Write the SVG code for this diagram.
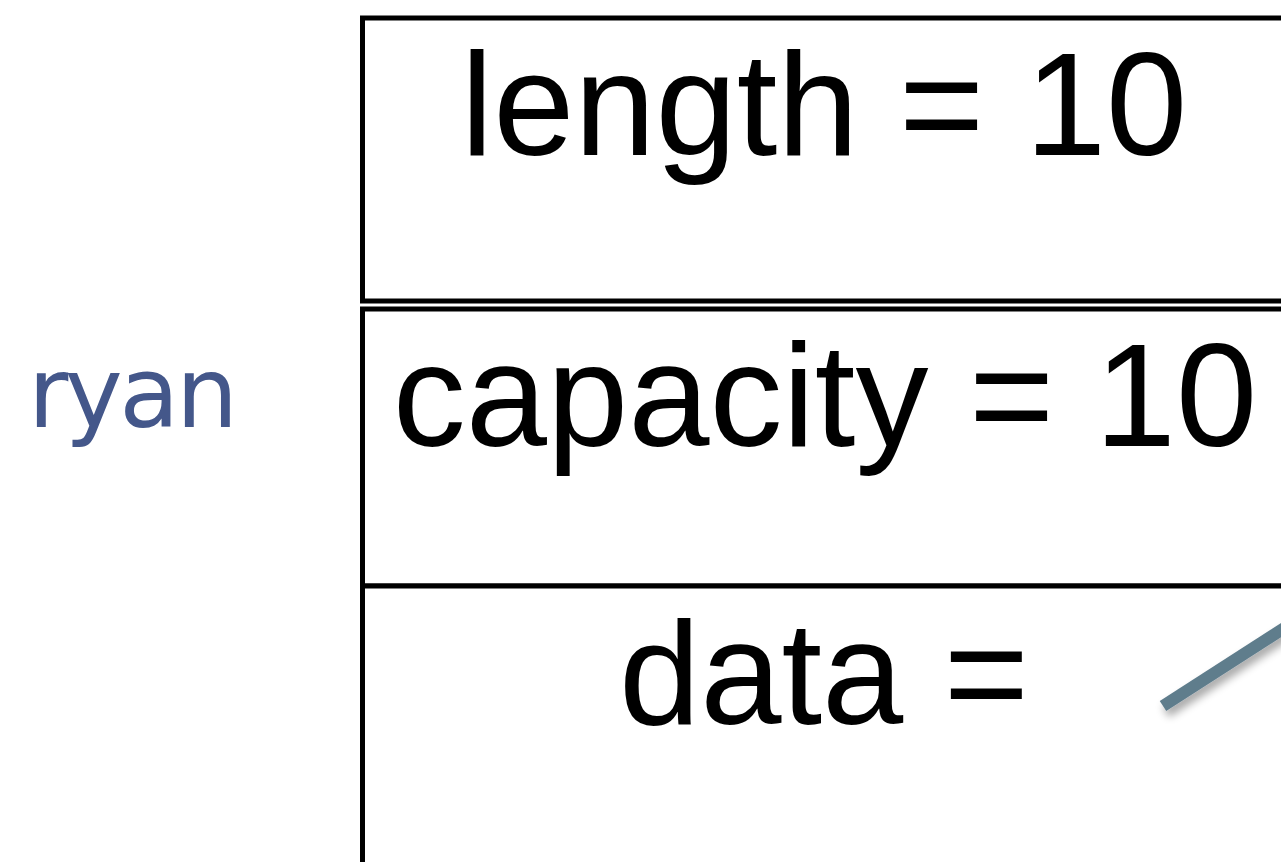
<svg xmlns="http://www.w3.org/2000/svg" width="1281" height="862" viewBox="0 0 1281 862">
<style>
.box{fill:#fff;stroke:#000;stroke-width:5}
.lbl{font-family:"Liberation Sans",Arial,sans-serif;font-size:146px;fill:#000;text-anchor:middle}
.name{font-family:"DejaVu Sans","Noto Sans",sans-serif;font-size:98px;fill:#44578a}
</style>
<defs>
<filter id="sh" x="-20%" y="-50%" width="140%" height="200%">
<feGaussianBlur in="SourceAlpha" stdDeviation="4"/>
<feOffset dx="3" dy="6" result="b"/>
<feComponentTransfer><feFuncA type="linear" slope="0.35"/></feComponentTransfer>
<feMerge><feMergeNode/><feMergeNode in="SourceGraphic"/></feMerge>
</filter>
</defs>
<rect width="1281" height="862" fill="#fff"/>
<g id="ryan"><text class="name" x="28" y="427" textLength="210" lengthAdjust="spacing">ryan</text></g>
<g id="length"><rect class="box" x="362.5" y="18" width="940" height="283"/><text class="lbl" x="824" y="155">length = 10</text></g>
<g id="capacity"><rect class="box" x="362.5" y="309" width="940" height="277"/><text class="lbl" x="825" y="446">capacity = 10</text></g>
<g id="data"><rect class="box" x="362.5" y="586" width="940" height="300"/><text class="lbl" x="824" y="724">data =</text></g>
<g id="connectors"><line x1="1163" y1="706" x2="1300" y2="618" stroke="#5f7d8c" stroke-width="12" filter="url(#sh)"/></g>
</svg>
